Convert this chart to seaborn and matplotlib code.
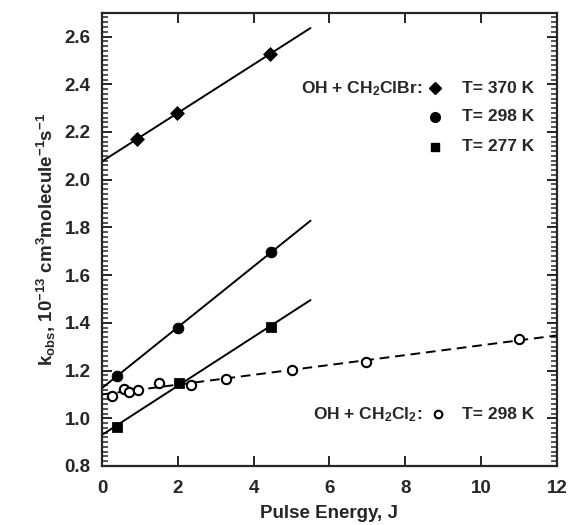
import numpy as np
import pandas as pd
import matplotlib
matplotlib.use("Agg")
import matplotlib.pyplot as plt
import seaborn as sns
from matplotlib.ticker import MultipleLocator

# ---- data ----
x_370 = [0.92, 1.99, 4.43]
y_370 = [2.170, 2.279, 2.527]
x_298 = [0.39, 2.00, 4.45]
y_298 = [1.179, 1.377, 1.696]
x_277 = [0.39, 2.02, 4.45]
y_277 = [0.965, 1.147, 1.384]
x_cl2 = [0.27, 0.58, 0.72, 0.96, 1.50, 2.35, 3.27, 5.00, 6.97, 11.00]
y_cl2 = [1.095, 1.124, 1.110, 1.119, 1.147, 1.140, 1.165, 1.203, 1.235, 1.332]

labels_T = ["T= 370 K", "T= 298 K", "T= 277 K"]
label_clbr = "OH + CH$_2$ClBr:"
label_cl2 = "OH + CH$_2$Cl$_2$:"
label_cl2_T = "T= 298 K"

sns.set_style("ticks")
plt.rcParams['font.family'] = ['Liberation Sans', 'DejaVu Sans']
plt.rcParams['font.weight'] = 'bold'
plt.rcParams['mathtext.fontset'] = 'custom'
plt.rcParams['mathtext.rm'] = 'Liberation Sans:bold'
plt.rcParams['mathtext.bf'] = 'Liberation Sans:bold'
plt.rcParams['mathtext.it'] = 'Liberation Sans:bold'
plt.rcParams['mathtext.default'] = 'bf'

fig = plt.figure(figsize=(5.71, 5.25), dpi=100)
ax = fig.add_axes([0.1786, 0.1124, 0.7969, 0.8634])

def fit_line(xs, ys, x0, x1):
    p = np.polyfit(xs, ys, 1)
    xx = np.array([x0, x1])
    df = pd.DataFrame({"x": xx, "y": np.polyval(p, xx)})
    sns.lineplot(data=df, x="x", y="y", ax=ax, color="black", lw=1.4)

fit_line(x_370, y_370, 0, 5.5)
fit_line(x_298, y_298, 0, 5.5)
fit_line(x_277, y_277, 0, 5.5)
p = np.polyfit(x_cl2, y_cl2, 1)
xx = np.array([0, 12])
ax.plot(xx, np.polyval(p, xx), color="black", lw=1.4, linestyle=(0, (5, 3)))

sns.scatterplot(x=x_370, y=y_370, ax=ax, marker="D", s=50, color="black",
                edgecolor="black", zorder=5)
sns.scatterplot(x=x_298, y=y_298, ax=ax, marker="o", s=60, color="black",
                edgecolor="black", zorder=5)
sns.scatterplot(x=x_277, y=y_277, ax=ax, marker="s", s=50, color="black",
                edgecolor="black", zorder=5)
sns.scatterplot(x=x_cl2, y=y_cl2, ax=ax, marker="o", s=45, facecolor="white",
                edgecolor="black", linewidth=1.5, zorder=5)

ax.set_xlim(0, 12)
ax.set_ylim(0.8, 2.7)
ax.xaxis.set_major_locator(MultipleLocator(2))
ax.yaxis.set_major_locator(MultipleLocator(0.2))
ax.yaxis.set_minor_locator(MultipleLocator(0.02))
ax.yaxis.set_major_formatter(matplotlib.ticker.FormatStrFormatter('%.1f'))
ax.tick_params(axis='both', which='both', direction='in', top=True, right=True,
               labelsize=13.5, width=1.4)
ax.tick_params(axis='x', which='major', length=7, pad=10)
ax.tick_params(axis='y', which='major', length=7, pad=8)
ax.tick_params(axis='y', which='minor', length=4.5, width=1.1)
for s in ax.spines.values():
    s.set_linewidth(1.6)
    s.set_visible(True)

ax.set_xlabel("Pulse Energy, J", fontsize=13.5, fontweight='bold')
ax.set_ylabel("k$_{obs}$, 10$^{-13}$ cm$^3$molecule$^{-1}$s$^{-1}$", fontsize=13.5,
              fontweight='bold')
ax.xaxis.label.set_va('center')
ax.yaxis.label.set_va('center')
ax.xaxis.set_label_coords(0.5, -0.105)
ax.yaxis.set_label_coords(-0.121, 0.5)

# legend-like annotations
tr = ax.transAxes
mk_x, txt_x = 0.732, 0.792
ys_leg = [0.833, 0.771, 0.704]
markers = ["D", "o", "s"]
msz = [6, 7, 6]
fs = 12.5
ax.text(0.703, ys_leg[0], label_clbr, transform=tr, ha="right", va="center",
        fontsize=fs, fontweight="bold")
for yv, m, ms, lab in zip(ys_leg, markers, msz, labels_T):
    ax.plot([mk_x], [yv], marker=m, ms=ms, color="black", transform=tr,
            clip_on=False)
    ax.text(txt_x, yv, lab, transform=tr, ha="left", va="center",
            fontsize=fs, fontweight="bold")
ax.text(0.703, 0.114, label_cl2, transform=tr, ha="right", va="center",
        fontsize=fs, fontweight="bold")
ax.plot([mk_x + 0.006], [0.114], marker="o", ms=5.5, mfc="white", mec="black",
        mew=1.5, transform=tr)
ax.text(txt_x, 0.114, label_cl2_T, transform=tr, ha="left", va="center",
        fontsize=fs, fontweight="bold")

fig.savefig("out.png", dpi=100)
